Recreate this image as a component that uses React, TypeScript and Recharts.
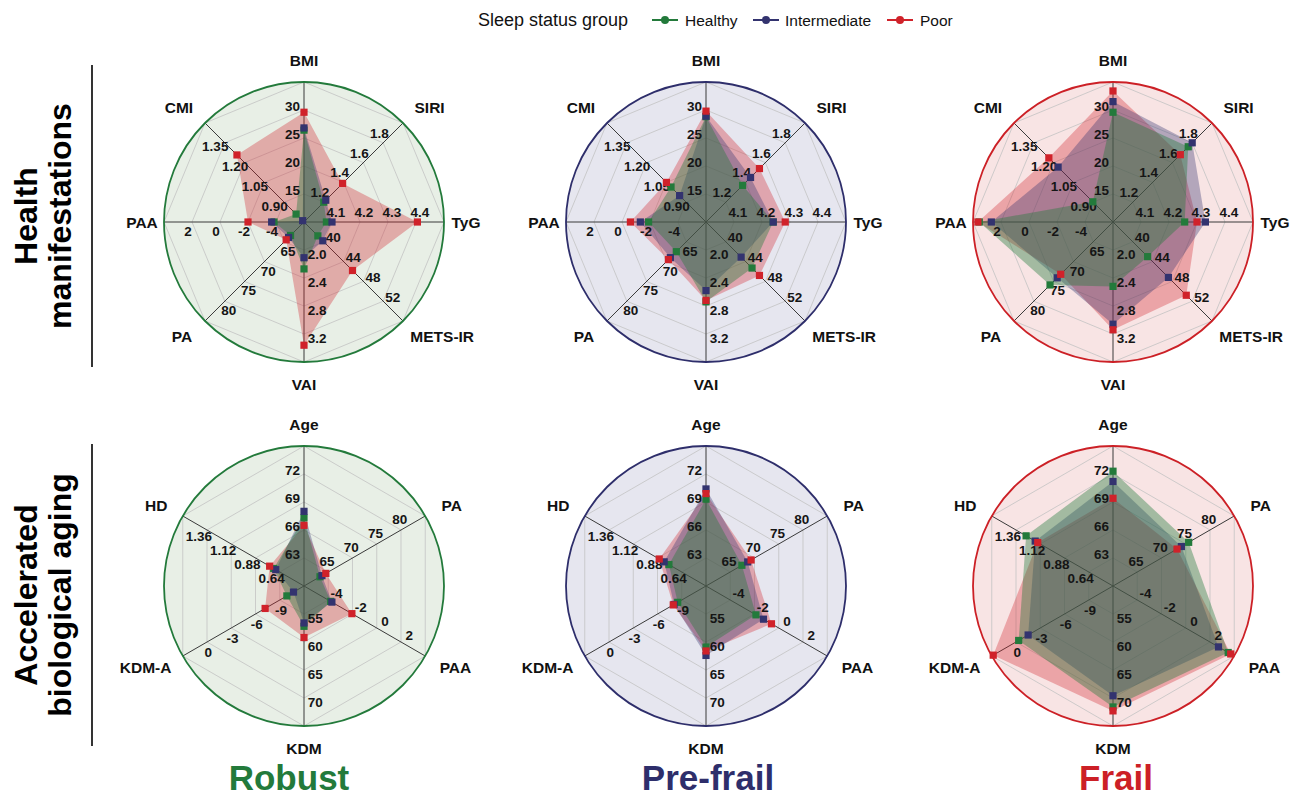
import React from "react";
import {
  RadarChart,
  Radar,
  PolarGrid,
  PolarAngleAxis,
  PolarRadiusAxis,
} from "recharts";

const FONT = '"Liberation Sans", Arial, Helvetica, sans-serif';

// ---- axes: health manifestations (top row) ----
const healthAxes = ["BMI", "SIRI", "TyG", "METS-IR", "VAI", "PA", "PAA", "CMI"];
const healthMin = [10, 1.0, 4.0, 36, 1.6, 60, -6, 0.75];
const healthMax = [35, 2.0, 4.5, 56, 3.6, 85, 4, 1.5];
const healthTicks = [
  ["15", "20", "25", "30"],
  ["1.2", "1.4", "1.6", "1.8"],
  ["4.1", "4.2", "4.3", "4.4"],
  ["40", "44", "48", "52"],
  ["2.0", "2.4", "2.8", "3.2"],
  ["65", "70", "75", "80"],
  ["-4", "-2", "0", "2"],
  ["0.90", "1.05", "1.20", "1.35"],
];

// ---- axes: accelerated biological aging (bottom row) ----
const agingAxes = ["Age", "PA", "PAA", "KDM", "KDM-A", "HD"];
const agingMin = [60, 60, -6, 50, -12, 0.4];
const agingMax = [75, 85, 4, 75, 3, 1.6];
const agingTicks = [
  ["63", "66", "69", "72"],
  ["65", "70", "75", "80"],
  ["-4", "-2", "0", "2"],
  ["55", "60", "65", "70"],
  ["-9", "-6", "-3", "0"],
  ["0.64", "0.88", "1.12", "1.36"],
];

// ---- group means, health manifestations ----
const robustHealthHealthy = [26.4, 1.2, 4.08, 38.8, 2.27, 63.4, -3.86, 0.81];
const robustHealthIntermediate = [26.8, 1.22, 4.1, 39.8, 2.11, 63.9, -3.69, 0.76];
const robustHealthPoor = [29.6, 1.39, 4.405, 45.8, 3.36, 64.5, -2.0, 1.258];

const prefrailHealthHealthy = [28.8, 1.37, 4.24, 45.3, 2.74, 67.5, -1.9, 1.015];
const prefrailHealthIntermediate = [28.9, 1.45, 4.24, 43.1, 2.58, 69.0, -1.31, 0.95];
const prefrailHealthPoor = [29.8, 1.54, 4.283, 46.8, 2.72, 69.5, -0.6, 1.05];

const frailHealthHealthy = [29.6, 1.76, 4.256, 43.0, 2.52, 75.9, 3.55, 0.903];
const frailHealthIntermediate = [31.5, 1.8, 4.33, 47.2, 3.06, 74.1, 2.69, 1.166];
const frailHealthPoor = [33.4, 1.68, 4.3, 50.8, 3.14, 73.2, 3.65, 1.236];

// ---- group means, biological aging ----
const robustAgingHealthy = [67.3, 63.3, -3.8, 57.2, -9.88, 0.7];
const robustAgingIntermediate = [68.0, 63.7, -3.7, 56.6, -10.7, 0.68];
const robustAgingPoor = [66.5, 64.5, -2.05, 59.2, -7.19, 0.74];

const prefrailAgingHealthy = [69.3, 67.4, -1.88, 60.9, -8.5, 0.767];
const prefrailAgingIntermediate = [70.4, 68.6, -1.26, 62.4, -8.05, 0.814];
const prefrailAgingPoor = [69.9, 69.3, -0.6, 61.6, -7.95, 0.863];

const frailAgingHealthy = [72.3, 75.6, 3.5, 71.6, -0.33, 1.26];
const frailAgingIntermediate = [71.2, 74.1, 2.7, 69.6, -1.5, 1.17];
const frailAgingPoor = [69.4, 73.2, 3.71, 72.3, 2.82, 1.145];

const groups = ["Healthy", "Intermediate", "Poor"];
const groupColors = ["#237a3b", "#33336f", "#d0222a"];
const groupOpacity = [0.4, 0.35, 0.33];

const frailtyLabels = ["Robust", "Pre-frail", "Frail"];
const frailtyColors = ["#237a3b", "#2e2e6b", "#cc2026"];
const frailtyTints = ["#e8efe6", "#e6e6ef", "#f8e4e4"];
const titleX = [289, 708, 1116];

const COLS = [304, 706, 1113];
const ROWS = [222, 586];
const R = 140;
const BOX_W = 420;
const BOX_H = 400;
const CX = BOX_W / 2;
const CY = BOX_H / 2;
const LEVELS = [0.2, 0.4, 0.6, 0.8, 1];

type PanelProps = {
  col: number;
  row: number;
  axes: string[];
  min: number[];
  max: number[];
  ticks: string[][];
  series: number[][];
};

function textWidth(s: string, size: number) {
  let w = 0;
  for (const ch of s) {
    if (ch === ".") w += 0.28;
    else if (ch === "-") w += 0.33;
    else if (ch === "I") w += 0.3;
    else if (ch === "M") w += 0.83;
    else w += 0.62;
  }
  return w * size;
}

function RadarPanel({ col, row, axes, min, max, ticks, series }: PanelProps) {
  const data = axes.map((axis, i) => {
    const rec: Record<string, string | number> = { axis };
    groups.forEach((g, k) => {
      rec[g] = (series[k][i] - min[i]) / (max[i] - min[i]);
    });
    return rec;
  });

  // axis name at the rim plus the per-axis scale printed along its spoke
  const renderSpoke = (props: any) => {
    const i: number = props.index;
    const deg =
      typeof props.payload?.coordinate === "number"
        ? props.payload.coordinate
        : 90 - (360 / axes.length) * i;
    const t = (deg * Math.PI) / 180;
    const c = Math.cos(t);
    const s = Math.sin(t);
    const ux = c;
    const uy = -s;
    const px = -s;
    const py = -c;
    const name = axes[i];
    let nx = CX + ux * (R + 22);
    const ny = CY + uy * (R + 22);
    if (Math.abs(c) > 0.05 && Math.abs(s) > 0.05) {
      nx += Math.sign(c) * textWidth(name, 15) * 0.4;
    }
    return (
      <g key={`spoke-${i}`}>
        <text
          x={nx}
          y={ny}
          textAnchor="middle"
          dominantBaseline="central"
          fontFamily={FONT}
          fontWeight="bold"
          fontSize={15.5}
          fill="#111"
        >
          {name}
        </text>
        {ticks[i].map((lab) => {
          const f = (parseFloat(lab) - min[i]) / (max[i] - min[i]);
          const w = textWidth(lab, 13.5);
          const d = Math.abs(s) > 0.99 ? w / 2 + 3 : 9.5;
          const r = f * R + 4;
          return (
            <text
              key={lab}
              x={CX + ux * r + px * d}
              y={CY + uy * r + py * d}
              textAnchor="middle"
              dominantBaseline="central"
              fontFamily={FONT}
              fontWeight="bold"
              fontSize={13.5}
              fill="#151515"
            >
              {lab}
            </text>
          );
        })}
      </g>
    );
  };

  const squareDot = (color: string) => (p: any) =>
    (
      <rect
        key={`dot-${p.index}`}
        x={p.cx - 3.6}
        y={p.cy - 3.6}
        width={7.2}
        height={7.2}
        fill={color}
      />
    );

  return (
    <div
      style={{
        position: "absolute",
        left: COLS[col] - CX,
        top: ROWS[row] - CY,
        width: BOX_W,
        height: BOX_H,
      }}
    >
      <RadarChart
        width={BOX_W}
        height={BOX_H}
        data={data}
        cx={CX}
        cy={CY}
        outerRadius={R}
        startAngle={90}
        endAngle={-270}
        margin={{ top: 0, right: 0, bottom: 0, left: 0 }}
      >
        <PolarGrid
          gridType="polygon"
          radialLines={false}
          polarRadius={LEVELS.map((l) => l * R)}
          stroke="#c3c3c3"
          strokeWidth={0.8}
        />
        <PolarGrid
          gridType="polygon"
          polarRadius={[0]}
          stroke="#3a3a3a"
          strokeWidth={1}
        />
        <PolarRadiusAxis domain={[0, 1]} tick={false} axisLine={false} />
        <PolarAngleAxis
          dataKey="axis"
          axisLineType="circle"
          axisLine={{ stroke: frailtyColors[col], strokeWidth: 1.8 }}
          tickLine={false}
          tick={renderSpoke}
        />
        {/* fills first, Poor at the bottom */}
        {[2, 1, 0].map((k) => (
          <Radar
            key={`fill-${k}`}
            dataKey={groups[k]}
            fill={groupColors[k]}
            fillOpacity={groupOpacity[k]}
            stroke="none"
            dot={false}
            isAnimationActive={false}
          />
        ))}
        {/* square markers on top of every fill */}
        {[0, 1, 2].map((k) => (
          <Radar
            key={`dot-${k}`}
            dataKey={groups[k]}
            fill="none"
            stroke="none"
            dot={squareDot(groupColors[k])}
            isAnimationActive={false}
          />
        ))}
      </RadarChart>
    </div>
  );
}

const healthSeries = [
  [robustHealthHealthy, robustHealthIntermediate, robustHealthPoor],
  [prefrailHealthHealthy, prefrailHealthIntermediate, prefrailHealthPoor],
  [frailHealthHealthy, frailHealthIntermediate, frailHealthPoor],
];
const agingSeries = [
  [robustAgingHealthy, robustAgingIntermediate, robustAgingPoor],
  [prefrailAgingHealthy, prefrailAgingIntermediate, prefrailAgingPoor],
  [frailAgingHealthy, frailAgingIntermediate, frailAgingPoor],
];

const legendItems = [
  { x: 652, textX: 685 },
  { x: 753, textX: 785 },
  { x: 887, textX: 920 },
];

export default function App() {
  return (
    <div
      style={{
        position: "absolute",
        left: 0,
        top: 0,
        width: 1299,
        height: 798,
        background: "#fff",
        overflow: "hidden",
        fontFamily: FONT,
      }}
    >
      {/* tinted discs behind each radar */}
      {ROWS.map((ry, r) =>
        COLS.map((cx, c) => (
          <div
            key={`bg-${r}-${c}`}
            style={{
              position: "absolute",
              left: cx - R,
              top: ry - R,
              width: 2 * R,
              height: 2 * R,
              borderRadius: "50%",
              background: frailtyTints[c],
            }}
          />
        ))
      )}

      <svg
        width={1299}
        height={798}
        style={{ position: "absolute", left: 0, top: 0 }}
      >
        {/* legend */}
        <text x={478} y={26} fontSize={18} fill="#111" fontFamily={FONT}>
          Sleep status group
        </text>
        {legendItems.map((it, k) => (
          <g key={groups[k]}>
            <line
              x1={it.x}
              x2={it.x + 26}
              y1={20}
              y2={20}
              stroke={groupColors[k]}
              strokeWidth={2}
            />
            <circle cx={it.x + 13} cy={20} r={4} fill={groupColors[k]} />
            <text x={it.textX} y={25.5} fontSize={15.5} fill="#111" fontFamily={FONT}>
              {groups[k]}
            </text>
          </g>
        ))}

        {/* row headers */}
        {[
          ["Health", "manifestations"],
          ["Accelerated", "biological aging"],
        ].map((lines, r) => {
          const cy = r === 0 ? 216 : 595;
          return (
            <g key={`row-${r}`}>
              {lines.map((ln, j) => {
                const bx = 37 + j * 34;
                return (
                  <text
                    key={ln}
                    x={bx}
                    y={cy}
                    transform={`rotate(-90 ${bx} ${cy})`}
                    textAnchor="middle"
                    fontSize={32}
                    fontWeight="bold"
                    fill="#000"
                    fontFamily={FONT}
                  >
                    {ln}
                  </text>
                );
              })}
              <line
                x1={92}
                x2={92}
                y1={cy - 151}
                y2={cy + 151}
                stroke="#000"
                strokeWidth={1.6}
              />
            </g>
          );
        })}

        {/* column titles */}
        {frailtyLabels.map((lab, c) => (
          <text
            key={lab}
            x={titleX[c]}
            y={790}
            textAnchor="middle"
            fontSize={35}
            fontWeight="bold"
            fill={frailtyColors[c]}
            fontFamily={FONT}
          >
            {lab}
          </text>
        ))}
      </svg>

      {[0, 1, 2].map((c) => (
        <RadarPanel
          key={`h-${c}`}
          col={c}
          row={0}
          axes={healthAxes}
          min={healthMin}
          max={healthMax}
          ticks={healthTicks}
          series={healthSeries[c]}
        />
      ))}
      {[0, 1, 2].map((c) => (
        <RadarPanel
          key={`a-${c}`}
          col={c}
          row={1}
          axes={agingAxes}
          min={agingMin}
          max={agingMax}
          ticks={agingTicks}
          series={agingSeries[c]}
        />
      ))}
    </div>
  );
}
